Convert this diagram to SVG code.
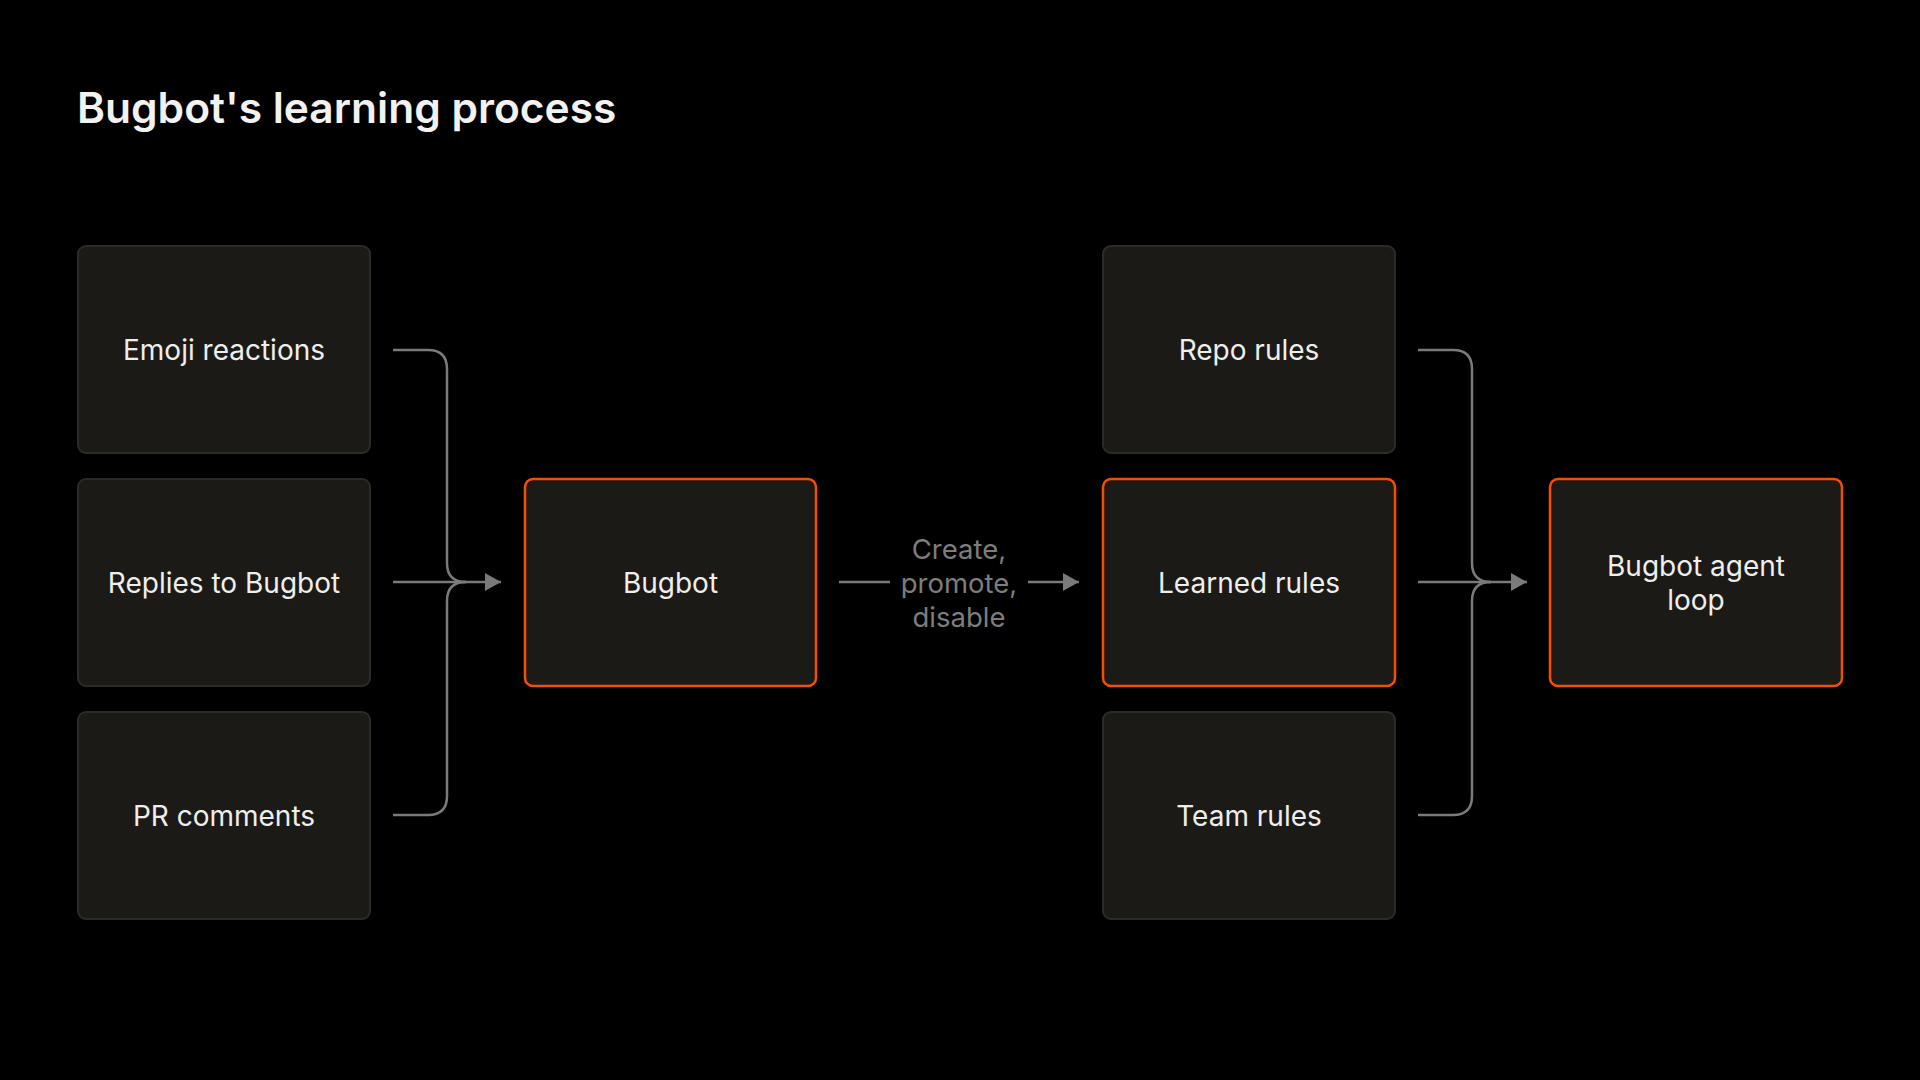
<svg xmlns="http://www.w3.org/2000/svg" width="1920" height="1080" viewBox="0 0 1920 1080">
  <style>
    .node rect { fill: #1b1a16; stroke: #2c2b27; stroke-width: 2; }
    .node.hl rect { stroke: #f54e00; stroke-width: 2.5; }
    .node text { font-family: Inter, "Noto Sans", "Liberation Sans", sans-serif; font-size: 28px; fill: #eeeeec; text-anchor: middle; }
    .title { font-family: Inter, "Noto Sans", "Liberation Sans", sans-serif; font-size: 42.5px; font-weight: 600; fill: #f2f2f0; }
    .conn path { fill: none; stroke: #7a7a7a; stroke-width: 2.5; }
    .label { font-family: Inter, "Noto Sans", "Liberation Sans", sans-serif; font-size: 27.5px; fill: #7d7d7b; text-anchor: middle; }
  </style>
  <defs>
    <marker id="arrow" markerUnits="userSpaceOnUse" markerWidth="16" markerHeight="18" refX="16" refY="9" orient="auto" viewBox="0 0 16 18">
      <path d="M0,0 L16,9 L0,18 Z" fill="#7a7a7a"/>
    </marker>
  </defs>
  <rect x="0" y="0" width="1920" height="1080" fill="#000000"/>
  <text class="title" x="77" y="123">Bugbot's learning process</text>

  <g id="emoji-reactions" class="node">
    <rect x="78" y="246" width="292" height="207" rx="8"/>
    <text x="224" y="360">Emoji reactions</text>
  </g>
  <g id="replies-to-bugbot" class="node">
    <rect x="78" y="479" width="292" height="207" rx="8"/>
    <text x="224" y="593">Replies to Bugbot</text>
  </g>
  <g id="pr-comments" class="node">
    <rect x="78" y="712" width="292" height="207" rx="8"/>
    <text x="224" y="826">PR comments</text>
  </g>
  <g id="bugbot" class="node hl">
    <rect x="525" y="479" width="291" height="207" rx="8"/>
    <text x="670.5" y="593">Bugbot</text>
  </g>
  <g id="repo-rules" class="node">
    <rect x="1103" y="246" width="292" height="207" rx="8"/>
    <text x="1249" y="360">Repo rules</text>
  </g>
  <g id="learned-rules" class="node hl">
    <rect x="1103" y="479" width="292" height="207" rx="8"/>
    <text x="1249" y="593">Learned rules</text>
  </g>
  <g id="team-rules" class="node">
    <rect x="1103" y="712" width="292" height="207" rx="8"/>
    <text x="1249" y="826">Team rules</text>
  </g>
  <g id="bugbot-agent-loop" class="node hl">
    <rect x="1550" y="479" width="292" height="207" rx="8"/>
    <text x="1696" y="576">Bugbot agent</text>
    <text x="1696" y="610">loop</text>
  </g>

  <g id="connectors" class="conn">
    <path d="M393,350 H428 Q447,350 447,369 V563 Q447,582 466,582"/>
    <path d="M393,815 H428 Q447,815 447,796 V601 Q447,582 466,582"/>
    <path d="M393,582 H501" marker-end="url(#arrow)"/>
    <path d="M1418,350 H1453 Q1472,350 1472,369 V563 Q1472,582 1491,582"/>
    <path d="M1418,815 H1453 Q1472,815 1472,796 V601 Q1472,582 1491,582"/>
    <path d="M1418,582 H1527" marker-end="url(#arrow)"/>
    <path d="M839,582 H890"/>
    <path d="M1028,582 H1079" marker-end="url(#arrow)"/>
  </g>
  <g id="connector-label">
    <text class="label" x="959" y="559">Create,</text>
    <text class="label" x="959" y="593">promote,</text>
    <text class="label" x="959" y="627">disable</text>
  </g>
</svg>
